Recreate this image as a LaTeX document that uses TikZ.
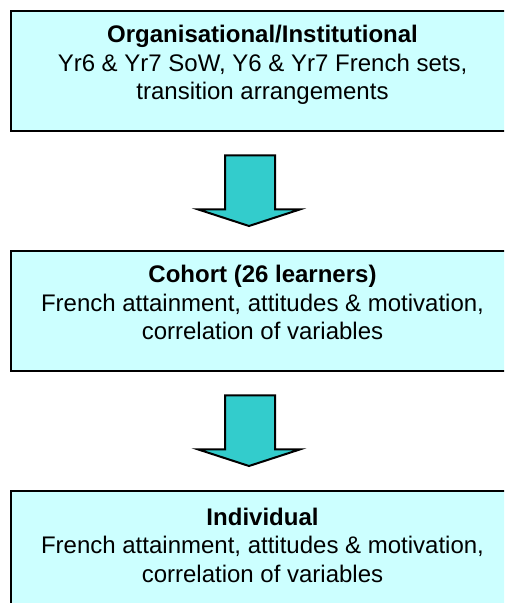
\documentclass[tikz,border=0pt]{standalone}
\usepackage{fontspec}
\setmainfont{Liberation Sans}
\usetikzlibrary{calc}
\definecolor{boxfill}{HTML}{CCFFFF}
\definecolor{arrowfill}{HTML}{33CCCC}
\begin{document}
\begin{tikzpicture}[x=0.5pt,y=-0.5pt,
  levelbox/.style={draw=black, line width=1.2pt, fill=boxfill, inner sep=0pt,
    minimum width=252.5pt, minimum height=60pt, anchor=north west},
  leveltext/.style={align=center, inner sep=0pt, anchor=north,
    font=\fontsize{12}{14.25}\selectfont},
  downarrow/.style={draw=black, line width=1pt, fill=arrowfill, line join=miter}]
\useasboundingbox (0,0) rectangle (504,603);
\clip (0,0) rectangle (504,603);
% boxes
\node[levelbox] (b1) at (10,10) {};
\node[levelbox] (b2) at (10,250) {};
\node[levelbox] (b3) at (10,490) {};
% texts
\node[leveltext] (t1) at (262.5,22.5) {\rule{0pt}{10pt}\textbf{Organisational/Institutional}\\Yr6 \& Yr7 SoW, Y6 \& Yr7 French sets,\\transition arrangements};
\node[leveltext] (t2) at (262.5,262.5) {\rule{0pt}{10pt}\textbf{Cohort (26 learners)}\\French attainment, attitudes \& motivation,\\correlation of variables};
\node[leveltext] (t3) at (262.5,505) {\rule{0pt}{10pt}\textbf{Individual}\\French attainment, attitudes \& motivation,\\correlation of variables};
% arrows
\foreach \src/\dst in {b1/b2, b2/b3}{
  \path (\src.south west) ++(0,23) coordinate (top-\src);
  \path (\dst.north west) ++(0,-24) coordinate (tip-\src);
  \draw[downarrow]
    (225,0 |- top-\src) -- (275,0 |- top-\src)
    -- ($(275,0 |- top-\src)+(0,54)$) -- ($(300,0 |- top-\src)+(0,54)$)
    -- (249,0 |- tip-\src)
    -- ($(198,0 |- top-\src)+(0,54)$) -- ($(225,0 |- top-\src)+(0,54)$) -- cycle;
}
\end{tikzpicture}
\end{document}
